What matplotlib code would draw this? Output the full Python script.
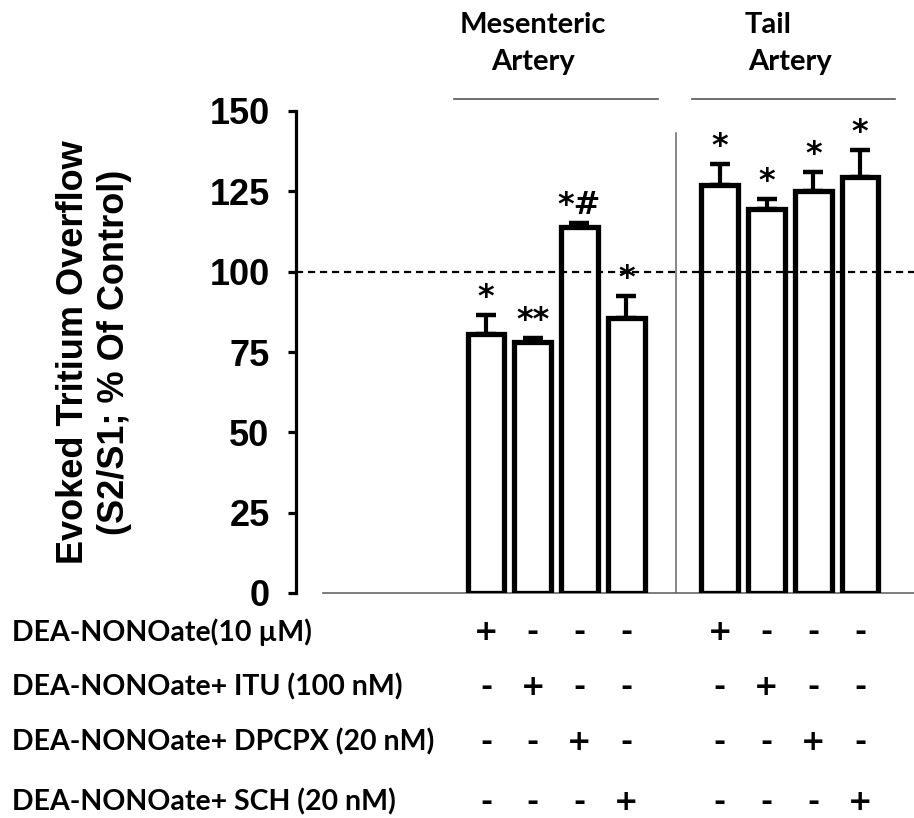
import matplotlib
matplotlib.use("Agg")
import matplotlib.pyplot as plt

# ---- data ----
groups = ["Mesenteric\nArtery", "Tail\nArtery"]
treatments = ["DEA-NONOate(10 µM)", "DEA-NONOate+ ITU (100 nM)",
              "DEA-NONOate+ DPCPX (20 nM)", "DEA-NONOate+ SCH (20 nM)"]
bar_pos = [0, 1, 2, 3, 5, 6, 7, 8]
bar_treat = [0, 1, 2, 3, 0, 1, 2, 3]
means = [80.5, 78.0, 114.0, 85.5, 127.0, 119.5, 125.0, 129.5]
errs = [6.0, 1.3, 1.2, 6.8, 6.5, 3.0, 6.0, 8.3]
marks = ["*", "**", "*#", "*", "*", "*", "*", "*"]
yticks = [0, 25, 50, 75, 100, 125, 150]

W, H = 914, 818
fig = plt.figure(figsize=(W / 100, H / 100), dpi=100)
ax = fig.add_axes([296 / W, 1 - 593 / H, (W - 296) / W, (593 - 111) / H])

ax.set_xlim(-4.064, 9.155)
ax.set_ylim(0, 150)

for s in ["top", "right", "bottom"]:
    ax.spines[s].set_visible(False)
ax.spines["left"].set_linewidth(2.3)
ax.spines["left"].set_bounds(0, 150)
ax.set_xticks([])
ax.set_yticks(yticks)
ax.tick_params(axis="y", direction="out", length=6, width=2.3, pad=13)
for lab in ax.get_yticklabels():
    lab.set_fontfamily("Liberation Sans")
    lab.set_fontweight("bold")
    lab.set_fontsize(26)

ax.set_ylabel("Evoked Tritium Overflow\n(S2/S1; % Of Control)",
              fontfamily="Liberation Sans", fontweight="bold", fontsize=26,
              linespacing=1.2, labelpad=56)

# baseline (thin gray)
ax.plot([-3.487, 9.155], [0, 0], color="#666666", lw=1.2, zorder=1, clip_on=False)
# dashed 100 line
ax.axhline(100, color="black", lw=1.6, linestyle=(0, (3.2, 2.2)), zorder=4)
# separator
ax.plot([4.06, 4.06], [0, 143], color="#666666", lw=1.1, zorder=1)

ax.bar(bar_pos, means, width=0.79, facecolor="none", edgecolor="black",
       linewidth=3.8, zorder=3)
ax.errorbar(bar_pos, means, yerr=[[0] * len(errs), errs], fmt="none",
            ecolor="black", elinewidth=3, capsize=7.5, capthick=3.2, zorder=3)

for x, m, e, t in zip(bar_pos, means, errs, marks):
    ax.text(x, m + e + 0.6, t, ha="center", va="bottom", fontsize=23,
            fontfamily="DejaVu Sans", fontweight="bold", color="black")

# group header lines and labels
hdr_font = dict(fontfamily="Lato", fontweight="bold", fontsize=21, color="black")
for (x0, x1), g in zip([(-0.68, 3.68), (4.41, 8.75)], groups):
    ax.plot([x0, x1], [153.6, 153.6], color="#555555", lw=1.2, clip_on=False)
ax.text(1.0, 165.3, "Artery", ha="center", va="center", **hdr_font, clip_on=False)
ax.text(1.0, 176.8, "Mesenteric", ha="center", va="center", **hdr_font, clip_on=False)
ax.text(5.6, 165.3, "Artery", ha="left", va="center", **hdr_font, clip_on=False)
ax.text(5.53, 176.8, "Tail", ha="left", va="center", **hdr_font, clip_on=False)

# treatment rows
row_y = [632, 687, 742, 802]
for r, (name, yp) in enumerate(zip(treatments, row_y)):
    fig.text(12 / W, 1 - yp / H, name, ha="left", va="center",
             fontfamily="Lato", fontweight="bold", fontsize=20.5)
    for x, t in zip(bar_pos, bar_treat):
        sym = "+" if t == r else "-"
        px = ax.transData.transform((x, 0))[0]
        fig.text(px / W, 1 - yp / H, sym, ha="center", va="center",
                 fontfamily="DejaVu Sans", fontweight="bold", fontsize=21)

fig.savefig("out.png", dpi=100)
